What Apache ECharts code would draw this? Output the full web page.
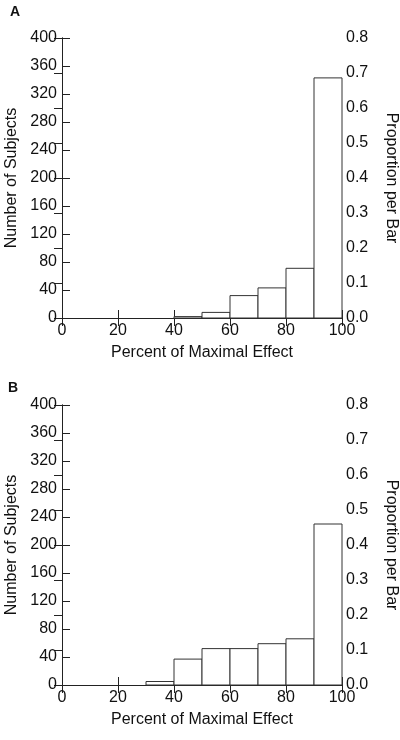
<!DOCTYPE html>
<html>
<head>
<meta charset="utf-8">
<script src="https://cdn.jsdelivr.net/npm/echarts@6/dist/echarts.min.js"></script>
<style>
html,body{margin:0;padding:0;background:#fff;}
#main{width:400px;height:740px;}
</style>
</head>
<body>
<div id="main"></div>
<script>
// Histogram bin edges (percent of maximal effect)
var binStarts = [0, 10, 20, 30, 40, 50, 60, 70, 80, 90];
var binWidth = 10;
// Panel A counts per bin
var countsA = [0, 0, 0, 0, 2, 8, 32, 43, 71, 343];
// Panel B counts per bin
var countsB = [0, 0, 0, 5, 37, 52, 52, 59, 66, 230];
var totalN = 500;
var xTicks = [0, 20, 40, 60, 80, 100];
var leftTicks = [0, 40, 80, 120, 160, 200, 240, 280, 320, 360, 400];
var rightTicks = [0.0, 0.1, 0.2, 0.3, 0.4, 0.5, 0.6, 0.7, 0.8];
var panelLabels = ['A', 'B'];

var FONT = 'Liberation Sans, Arial, Helvetica, sans-serif';
var INK = '#111';

function histData(counts) {
  var out = [];
  for (var i = 0; i < counts.length; i++) {
    if (counts[i] > 0) out.push([binStarts[i], binStarts[i] + binWidth, counts[i]]);
  }
  return out;
}

var grids = [
  {left: 62, top: 38, width: 280, height: 280, outerBoundsMode: 'none', containLabel: false},
  {left: 62, top: 405, width: 280, height: 280, outerBoundsMode: 'none', containLabel: false}
];

var xAxes = [], yAxes = [], series = [];
grids.forEach(function (g, gi) {
  var common = {
    type: 'value', min: xTicks[0], max: xTicks[xTicks.length - 1], interval: 20,
    gridIndex: gi, splitLine: {show: false},
    axisLine: {show: true, lineStyle: {color: '#222', width: 1}},
    axisTick: {show: true, inside: true, length: 8, lineStyle: {color: '#222'}}
  };
  xAxes.push(Object.assign({}, common, {
    position: 'bottom',
    name: 'Percent of Maximal Effect', nameLocation: 'middle', nameGap: 27,
    nameTextStyle: {fontFamily: FONT, fontSize: 16, color: INK},
    axisLabel: {fontFamily: FONT, fontSize: 16, color: INK, margin: 5}
  }));
  xAxes.push(Object.assign({}, common, {
    position: 'top', axisLabel: {show: false}
  }));
  yAxes.push({
    type: 'value', gridIndex: gi, position: 'left',
    min: leftTicks[0], max: leftTicks[leftTicks.length - 1], interval: 40,
    splitLine: {show: false},
    axisLine: {show: true, lineStyle: {color: '#222', width: 1}},
    axisTick: {show: true, inside: true, length: 8, lineStyle: {color: '#222'}},
    axisLabel: {fontFamily: FONT, fontSize: 16, color: INK, margin: 5},
    name: 'Number of Subjects', nameLocation: 'middle', nameGap: 41,
    nameTextStyle: {fontFamily: FONT, fontSize: 16, color: INK}
  });
  yAxes.push({
    type: 'value', gridIndex: gi, position: 'right',
    min: rightTicks[0], max: rightTicks[rightTicks.length - 1], interval: 0.1,
    splitLine: {show: false},
    axisLine: {show: true, lineStyle: {color: '#222', width: 1}},
    axisTick: {show: true, inside: true, length: 8, lineStyle: {color: '#222'}},
    axisLabel: {fontFamily: FONT, fontSize: 16, color: INK, margin: 4,
      formatter: function (v) { return v.toFixed(1); }},
    name: 'Proportion per Bar', nameLocation: 'middle', nameGap: 41, nameRotate: -90,
    nameTextStyle: {fontFamily: FONT, fontSize: 16, color: INK}
  });
  var counts = gi === 0 ? countsA : countsB;
  series.push({
    type: 'custom',
    xAxisIndex: gi * 2, yAxisIndex: gi * 2,
    data: histData(counts),
    renderItem: function (params, api) {
      var p0 = api.coord([api.value(0), api.value(2)]);
      var p1 = api.coord([api.value(1), 0]);
      return {
        type: 'rect',
        shape: {x: p0[0], y: p0[1], width: p1[0] - p0[0], height: p1[1] - p0[1]},
        style: {fill: '#fff', stroke: '#333', lineWidth: 1}
      };
    },
    silent: true
  });
});

var chart = echarts.init(document.getElementById('main'), null, {renderer: 'canvas'});
chart.setOption({
  animation: false,
  backgroundColor: '#fff',
  grid: grids,
  xAxis: xAxes,
  yAxis: yAxes,
  series: series,
  graphic: [
    {type: 'text', left: 10, top: 5, style: {text: panelLabels[0], font: 'bold 14px ' + FONT, fill: INK}},
    {type: 'text', left: 8, top: 381, style: {text: panelLabels[1], font: 'bold 14px ' + FONT, fill: INK}}
  ]
});
</script>
</body>
</html>
